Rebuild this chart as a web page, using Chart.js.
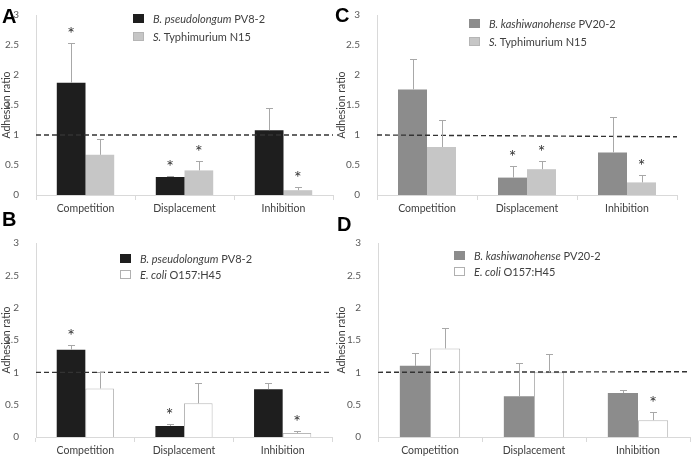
<!DOCTYPE html>
<html>
<head>
<meta charset="utf-8">
<script src="https://cdn.jsdelivr.net/npm/chart.js@4"></script>
<style>
  body { margin: 0; background: #fff; width: 691px; height: 456px; position: relative; overflow: hidden; font-family: Lato, sans-serif; }
  canvas { position: absolute; }
  .letter { position: absolute; font: bold 20px "Liberation Sans", Arial, sans-serif; line-height: 20px; color: #000; }
  .legend { position: absolute; font-size: 11px; color: #404040; white-space: nowrap; }
  .legend .row { display: flex; align-items: center; }
  .legend .box { width: 11px; height: 9px; box-sizing: border-box; margin-right: 9px; }
</style>
</head>
<body>
<canvas id="chartA" width="345" height="228" style="left:0;top:0"></canvas>
<canvas id="chartB" width="345" height="228" style="left:0;top:228px"></canvas>
<canvas id="chartC" width="356" height="228" style="left:335px;top:0"></canvas>
<canvas id="chartD" width="356" height="228" style="left:335px;top:228px"></canvas>

<div class="letter" style="left:2px;top:6px">A</div>
<div class="letter" style="left:2px;top:209px">B</div>
<div class="letter" style="left:335px;top:5px">C</div>
<div class="letter" style="left:337px;top:214px">D</div>

<div class="legend" style="left:133px;top:10px">
  <div class="row" style="height:17.5px"><span class="box" style="background:#1e1e1e"></span><span><i>B. pseudolongum</i> PV8-2</span></div>
  <div class="row" style="height:17.5px"><span class="box" style="background:#c6c6c6;border:1px solid #b5b5b5"></span><span><i>S.</i> Typhimurium N15</span></div>
</div>
<div class="legend" style="left:120px;top:251px">
  <div class="row" style="height:15.5px"><span class="box" style="background:#1e1e1e"></span><span><i>B. pseudolongum</i> PV8-2</span></div>
  <div class="row" style="height:15.5px"><span class="box" style="background:#fff;border:1px solid #b0b0b0"></span><span><i>E. coli</i> O157:H45</span></div>
</div>
<div class="legend" style="left:469px;top:14.5px">
  <div class="row" style="height:18.3px"><span class="box" style="background:#8c8c8c"></span><span><i>B. kashiwanohense</i> PV20-2</span></div>
  <div class="row" style="height:18.3px"><span class="box" style="background:#c6c6c6;border:1px solid #b5b5b5"></span><span><i>S.</i> Typhimurium N15</span></div>
</div>
<div class="legend" style="left:454px;top:247px">
  <div class="row" style="height:16.5px"><span class="box" style="background:#8c8c8c"></span><span><i>B. kashiwanohense</i> PV20-2</span></div>
  <div class="row" style="height:16.5px"><span class="box" style="background:#fff;border:1px solid #b0b0b0"></span><span><i>E. coli</i> O157:H45</span></div>
</div>

<script>
const categories = ["Competition", "Displacement", "Inhibition"];
const yTicks = [0, 0.5, 1, 1.5, 2, 2.5, 3];

// A: B. pseudolongum vs S. Typhimurium
const pseudoA = [1.87, 0.30, 1.08];
const pseudoAErr = [0.66, 0.01, 0.37];
const pseudoAStar = [1, 1, 0];
const typhiA = [0.67, 0.41, 0.08];
const typhiAErr = [0.26, 0.16, 0.05];
const typhiAStar = [0, 1, 1];
const refA = [1, 1];

// B: B. pseudolongum vs E. coli
const pseudoB = [1.35, 0.17, 0.74];
const pseudoBErr = [0.08, 0.03, 0.10];
const pseudoBStar = [1, 1, 0];
const coliB = [0.75, 0.52, 0.06];
const coliBErr = [0.25, 0.31, 0.03];
const coliBStar = [0, 0, 1];
const refB = [1, 1];

// C: B. kashiwanohense vs S. Typhimurium
const kashiC = [1.76, 0.29, 0.71];
const kashiCErr = [0.51, 0.19, 0.59];
const kashiCStar = [0, 1, 0];
const typhiC = [0.80, 0.43, 0.21];
const typhiCErr = [0.45, 0.13, 0.12];
const typhiCStar = [0, 1, 1];
const refC = [1, 0.97];

// D: B. kashiwanohense vs E. coli
const kashiD = [1.10, 0.63, 0.68];
const kashiDErr = [0.20, 0.51, 0.04];
const kashiDStar = [0, 0, 0];
const coliD = [1.37, 1.00, 0.26];
const coliDErr = [0.32, 0.29, 0.13];
const coliDStar = [0, 0, 1];
const refD = [1, 1.01];

const BLACK = "#1e1e1e", DARK = "#8c8c8c", LIGHT = "#c6c6c6", WHITE = "#ffffff";

Chart.defaults.font.family = "Lato, sans-serif";

// error bars, asterisks and the dashed reference line
const errorBars = {
  id: "errorBars",
  afterDatasetsDraw(chart, args, opts) {
    const ctx = chart.ctx;
    const y = chart.scales.y;
    const area = chart.chartArea;
    ctx.save();
    ctx.strokeStyle = "#333";
    ctx.lineWidth = 1.4;
    ctx.setLineDash([5, 3]);
    ctx.beginPath();
    ctx.moveTo(area.left, y.getPixelForValue(opts.refLine[0]));
    ctx.lineTo(area.right, y.getPixelForValue(opts.refLine[1]));
    ctx.stroke();
    ctx.setLineDash([]);
    chart.data.datasets.forEach((ds, i) => {
      const meta = chart.getDatasetMeta(i);
      meta.data.forEach((bar, j) => {
        const yBase = y.getPixelForValue(ds.data[j]);
        const yTop = Math.round(y.getPixelForValue(ds.data[j] + ds.errors[j])) + 0.5;
        const x = Math.round(bar.x) + 0.5;
        ctx.strokeStyle = "#a8a8a8";
        ctx.lineWidth = 1;
        ctx.beginPath();
        ctx.moveTo(x, yBase);
        ctx.lineTo(x, yTop);
        ctx.moveTo(x - 3.5, yTop);
        ctx.lineTo(x + 3.5, yTop);
        ctx.stroke();
        if (ds.stars[j]) {
          ctx.fillStyle = "#333";
          ctx.font = "18px Lato";
          ctx.textAlign = "center";
          ctx.textBaseline = "alphabetic";
          ctx.fillText("*", bar.x, yTop - 4);
        }
      });
    });
    ctx.restore();
  }
};

function makeDataset(label, data, errors, stars, color) {
  return {
    label: label,
    data: data,
    errors: errors,
    stars: stars,
    backgroundColor: color,
    borderColor: color === WHITE ? "#b8b8b8" : color,
    borderWidth: color === WHITE ? 1 : 0,
    categoryPercentage: 0.58,
    barPercentage: 1
  };
}

function makeChart(id, datasets, refLine, box) {
  new Chart(document.getElementById(id), {
    type: "bar",
    data: { labels: categories, datasets: datasets },
    options: {
      responsive: false,
      animation: false,
      layout: { padding: { left: 0, top: box.top, right: box.right, bottom: 0 } },
      plugins: {
        legend: { display: false },
        tooltip: { enabled: false },
        errorBars: { refLine: refLine }
      },
      scales: {
        x: {
          grid: { display: true, drawOnChartArea: false, offset: true, tickLength: 5, color: "#d9d9d9" },
          border: { color: "#d9d9d9" },
          ticks: { color: "#404040", font: { size: 10.5 }, padding: 2 },
          afterFit: (s) => { s.height = box.xh; }
        },
        y: {
          min: 0,
          max: 3,
          afterBuildTicks: (s) => { s.ticks = yTicks.map((v) => ({ value: v })); },
          grid: { display: false },
          border: { color: "#d9d9d9" },
          ticks: { color: "#595959", font: { size: 10 }, padding: 9, callback: (v) => String(v) },
          title: { display: true, text: "Adhesion ratio", color: "#404040", font: { size: 10.5 }, padding: { top: 0, bottom: 0 } },
          afterFit: (s) => { s.width = box.yw; }
        }
      }
    },
    plugins: [errorBars]
  });
}

makeChart("chartA", [
  makeDataset("B. pseudolongum PV8-2", pseudoA, pseudoAErr, pseudoAStar, BLACK),
  makeDataset("S. Typhimurium N15", typhiA, typhiAErr, typhiAStar, LIGHT)
], refA, { top: 11, right: 12, xh: 33, yw: 36 });

makeChart("chartB", [
  makeDataset("B. pseudolongum PV8-2", pseudoB, pseudoBErr, pseudoBStar, BLACK),
  makeDataset("E. coli O157:H45", coliB, coliBErr, coliBStar, WHITE)
], refB, { top: 5, right: 13, xh: 19, yw: 36 });

makeChart("chartC", [
  makeDataset("B. kashiwanohense PV20-2", kashiC, kashiCErr, kashiCStar, DARK),
  makeDataset("S. Typhimurium N15", typhiC, typhiCErr, typhiCStar, LIGHT)
], refC, { top: 15, right: 14, xh: 33, yw: 42 });

makeChart("chartD", [
  makeDataset("B. kashiwanohense PV20-2", kashiD, kashiDErr, kashiDStar, DARK),
  makeDataset("E. coli O157:H45", coliD, coliDErr, coliDStar, WHITE)
], refD, { top: 12, right: 1, xh: 19, yw: 43 });
</script>
</body>
</html>
